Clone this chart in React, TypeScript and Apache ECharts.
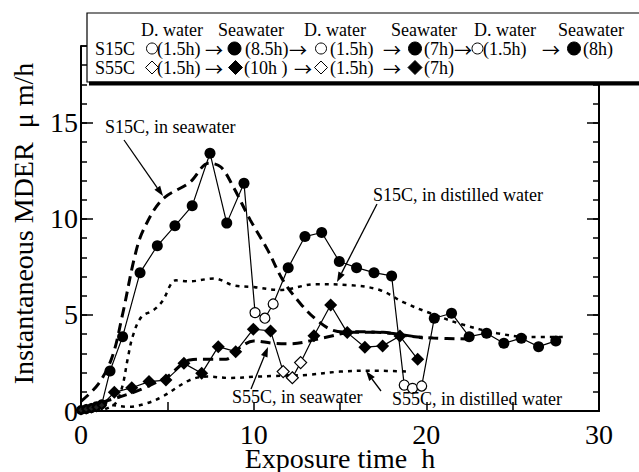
import React, { useEffect, useRef } from 'react';
import * as echarts from 'echarts';

const FONT = 'Liberation Serif';
const ARROW_FONT = 'Noto Sans CJK JP';

// Exposure schedule (from legend)
const s15cPhases: [string, number][] = [['D. water', 1.5], ['Seawater', 8.5], ['D. water', 1.5], ['Seawater', 7], ['D. water', 1.5], ['Seawater', 8]];
const s55cPhases: [string, number][] = [['D. water', 1.5], ['Seawater', 10], ['D. water', 1.5], ['Seawater', 7]];

// Measured points
const s15cTime = [0, 0.3, 0.6, 0.9, 1.2, 1.68, 2.41, 3.42, 4.42, 5.44, 6.44, 7.47, 8.44, 9.44, 10.08, 10.65, 11.13, 12.0, 12.97, 13.94, 14.96, 15.96, 16.97, 17.99, 18.72, 19.2, 19.73, 20.46, 21.46, 22.48, 23.49, 24.49, 25.5, 26.5, 27.5];
const s15cRate = [0.05, 0.1, 0.15, 0.25, 0.35, 2.08, 3.87, 7.2, 8.6, 9.64, 10.68, 13.42, 9.78, 11.86, 5.12, 4.83, 5.57, 7.46, 9.08, 9.29, 7.78, 7.46, 7.2, 7.03, 1.35, 1.18, 1.3, 4.83, 5.09, 3.87, 4.05, 3.53, 3.79, 3.35, 3.65];
const s55cTime = [0, 0.3, 0.6, 0.9, 1.2, 1.93, 2.94, 3.94, 4.92, 5.96, 6.99, 7.95, 8.96, 9.98, 10.98, 11.71, 12.24, 12.72, 13.49, 14.46, 15.42, 16.44, 17.47, 18.47, 19.5];
const s55cRate = [0.05, 0.1, 0.15, 0.2, 0.3, 0.97, 1.21, 1.53, 1.61, 2.48, 1.96, 3.35, 3.09, 4.26, 4.17, 2.05, 1.73, 2.52, 3.92, 5.52, 4.08, 3.32, 3.39, 3.9, 2.69];

// Fitted trend curves
const s15cSeaTime = [0, 1.0, 1.8, 2.4, 3.1, 3.6, 4.7, 6.3, 7.4, 8.1, 8.8, 9.8, 10.8, 11.7, 12.7, 13.7, 14.6, 15.6, 17.5, 18.5, 20.4, 22.4];
const s15cSeaRate = [0.5, 1.4, 2.8, 5.0, 8.0, 9.4, 11.0, 11.9, 12.9, 12.7, 11.7, 9.95, 8.4, 6.8, 5.6, 4.7, 4.2, 4.1, 4.1, 3.95, 3.8, 3.75];
const s15cDistTime = [1.4, 2.0, 2.4, 2.7, 3.0, 3.5, 4.2, 4.7, 5.5, 6.3, 7.7, 8.8, 10.0, 11.5, 13.6, 15.6, 17.3, 18.7, 20.2, 22.1, 24.1, 26.0, 27.9];
const s15cDistRate = [0.1, 0.4, 1.3, 2.7, 3.9, 4.9, 5.25, 5.7, 6.8, 6.75, 6.9, 6.55, 6.45, 6.3, 6.6, 6.55, 6.3, 5.65, 5.1, 4.5, 4.05, 3.85, 3.85];
const s55cSeaTime = [1.2, 2.3, 3.4, 5.0, 6.3, 7.3, 8.4, 9.2, 10.0, 11.1, 12.1, 14.0, 16.0, 17.9, 19.8];
const s55cSeaRate = [0.45, 0.75, 1.1, 1.8, 2.65, 2.7, 2.7, 3.3, 3.65, 3.53, 3.5, 3.8, 4.13, 4.05, 3.8];
const s55cDistTime = [1.3, 1.9, 2.8, 3.8, 4.7, 6.3, 7.3, 8.6, 10.2, 11.1, 13.1, 15.0, 16.9, 19.0];
const s55cDistRate = [0.45, 0.3, 0.22, 0.4, 0.74, 1.61, 1.79, 1.72, 1.79, 1.82, 1.88, 2.05, 2.1, 2.05];

const xTickLabels = [0, 10, 20, 30];
const yTickLabels = [0, 5, 10, 15];
const xTitle = 'Exposure time  h';
const yTitle = 'Instantaneous MDER  μ m/h';

function inSeawater(phases: [string, number][], t: number) {
  let start = 0;
  for (const [medium, h] of phases) {
    const end = start + h;
    if (t >= start && t < end) return medium === 'Seawater';
    start = end;
  }
  return phases[phases.length - 1][0] === 'Seawater';
}

function pts(xs: number[], ys: number[]) {
  return xs.map((x, i) => [x, ys[i]]);
}

function arrow(x1: number, y1: number, x2: number, y2: number) {
  const a = Math.atan2(y2 - y1, x2 - x1);
  const L = 10, W = 3.5;
  const bx = x2 - L * Math.cos(a), by = y2 - L * Math.sin(a);
  const px = -Math.sin(a) * W, py = Math.cos(a) * W;
  return [
    { type: 'line', z: 50, shape: { x1, y1, x2: bx, y2: by }, style: { stroke: '#000', lineWidth: 1.3 } },
    { type: 'polygon', z: 50, shape: { points: [[x2, y2], [bx + px, by + py], [bx - px, by - py]] }, style: { fill: '#000' } },
  ];
}

function txt(x: number, y: number, text: string, size = 18, z = 101, family = FONT, align = 'left') {
  return { type: 'text', x, y, z, style: { text, fontSize: size, lineHeight: size, fontFamily: family, fill: '#000', align, verticalAlign: 'middle' } };
}
function arr(x: number, y: number) {
  return txt(x, y, '→', 18, 101, ARROW_FONT);
}
function circ(cx: number, cy: number, filled: boolean) {
  return { type: 'circle', z: 101, shape: { cx, cy, r: filled ? 6.5 : 5.5 }, style: { fill: filled ? '#000' : '#fff', stroke: '#000', lineWidth: 1 } };
}
function diam(cx: number, cy: number, filled: boolean) {
  const r = filled ? 7 : 6.5;
  return { type: 'polygon', z: 101, shape: { points: [[cx, cy - r], [cx + r, cy], [cx, cy + r], [cx - r, cy]] }, style: { fill: filled ? '#000' : '#fff', stroke: '#000', lineWidth: 1 } };
}

export default function App() {
  const ref = useRef<HTMLDivElement>(null);
  useEffect(() => {
    const chart = echarts.init(ref.current!, null, { renderer: 'svg' });
    const axisLine = { show: true, lineStyle: { color: '#000', width: 2 } };

    const mkPoints = (xs: number[], ys: number[], phases: [string, number][], shape: string, fs: number, os: number) =>
      xs.map((x, i) => {
        const sea = inSeawater(phases, x);
        const early = x < 1.5;
        return {
          value: [x, ys[i]],
          symbol: shape,
          symbolSize: sea ? fs : early ? 8 : os,
          itemStyle: sea
            ? { color: '#000', borderColor: '#000', borderWidth: 0 }
            : { color: early ? '#222' : '#fff', borderColor: '#000', borderWidth: early ? 2 : 1.2 },
        };
      });

    const curve = (name: string, xs: number[], ys: number[], dashed: boolean) => ({
      type: 'line', name, data: pts(xs, ys), smooth: 0.35, symbol: 'none', showSymbol: false, z: 3,
      lineStyle: dashed ? { color: '#000', width: 3, type: [10, 6] } : { color: '#000', width: 2.5, type: [4, 5] },
    });

    const minorY = (position: string) => ({
      type: 'value', min: 0, max: 19, interval: 1, position,
      axisLine, splitLine: { show: false },
      axisTick: { show: true, inside: true, length: 6, lineStyle: { color: '#000', width: 1.5 } },
      axisLabel: { show: false },
    });
    const majorY = (position: string) => ({
      type: 'value', min: 0, max: 19, interval: 5, position,
      axisLine: { show: false }, splitLine: { show: false },
      axisTick: { show: true, inside: true, length: 12, lineStyle: { color: '#000', width: 1.5 } },
      axisLabel: { show: false },
    });

    chart.setOption({
      animation: false,
      backgroundColor: '#fff',
      grid: { left: 81, right: 40, top: 46, bottom: 61, containLabel: false },
      xAxis: [
        {
          type: 'value', min: 0, max: 30, interval: 5, position: 'bottom',
          axisLine, splitLine: { show: false },
          axisTick: { show: true, inside: true, length: 9, lineStyle: { color: '#000', width: 1.5 } },
          axisLabel: { show: false },
        },
        {
          type: 'value', min: 0, max: 30, interval: 5, position: 'top',
          axisLine, splitLine: { show: false }, axisTick: { show: false }, axisLabel: { show: false },
        },
      ],
      yAxis: [minorY('left'), majorY('left'), minorY('right'), majorY('right')],
      series: [
        curve('S15C, in seawater', s15cSeaTime, s15cSeaRate, true),
        curve('S15C, in distilled water', s15cDistTime, s15cDistRate, false),
        curve('S55C, in seawater', s55cSeaTime, s55cSeaRate, true),
        curve('S55C, in distilled water', s55cDistTime, s55cDistRate, false),
        {
          type: 'line', name: 'S15C', z: 5, data: mkPoints(s15cTime, s15cRate, s15cPhases, 'circle', 11, 10),
          lineStyle: { color: '#000', width: 1.2 }, itemStyle: { color: '#000' },
        },
        {
          type: 'line', name: 'S55C', z: 5, data: mkPoints(s55cTime, s55cRate, s55cPhases, 'diamond', 13, 12),
          lineStyle: { color: '#000', width: 1.2 }, itemStyle: { color: '#000' },
        },
      ],
    });

    // Axis tick labels and titles placed through the axes' own scales
    const px = (v: number) => chart.convertToPixel({ xAxisIndex: 0 }, v) as number;
    const py = (v: number) => chart.convertToPixel({ yAxisIndex: 0 }, v) as number;
    const axisY = py(0);
    const axisX = px(0);
    const axisTexts: any[] = [
      ...xTickLabels.map((v) => txt(px(v), axisY + 23, String(v), 28, 40, FONT, 'center')),
      ...yTickLabels.map((v) => txt(axisX - 3, py(v), String(v), 28, 40, FONT, 'right')),
      txt((px(0) + px(30)) / 2, axisY + 47, xTitle, 28, 40, FONT, 'center'),
      {
        type: 'text', x: 23, y: (py(0) + py(19)) / 2 - 5, z: 40, rotation: Math.PI / 2,
        style: { text: yTitle, fontSize: 28, lineHeight: 28, fontFamily: FONT, fill: '#000', align: 'center', verticalAlign: 'middle' },
      },
    ];

    const headerX = [141, 218, 304, 391, 474, 558];
    const r1 = 30, r2 = 48.5, r3 = 67.5;
    const graphic: any[] = [
      ...axisTexts,
      { type: 'rect', z: 100, shape: { x: 87, y: 13, width: 600, height: 69 }, style: { fill: '#fff', stroke: '#000', lineWidth: 1.2 } },
      { type: 'rect', z: 100, shape: { x: 89, y: 81.5, width: 600, height: 4 }, style: { fill: '#000' } },
      ...s15cPhases.map(([m], i) => txt(headerX[i], r1, m)),
      txt(95, r2, 'S15C'), circ(152, r2, false), txt(157, r2, '(1.5h)'), arr(205, r2),
      circ(234.5, r2, true), txt(245, r2, '(8.5h)'), arr(289, r2),
      circ(321, r2, false), txt(330, r2, '(1.5h)'), arr(383, r2),
      circ(415, r2, true), txt(424, r2, '(7h)'), arr(454, r2),
      circ(477.5, r2, false), txt(483, r2, '(1.5h)'), arr(542, r2),
      circ(574, r2, true), txt(583, r2, '(8h)'),
      txt(95, r3, 'S55C'), diam(152, r3, false), txt(157, r3, '(1.5h)'), arr(205, r3),
      diam(235.5, r3, true), txt(244, r3, '(10h )'), arr(294, r3),
      diam(321, r3, false), txt(330, r3, '(1.5h)'), arr(383, r3),
      diam(415, r3, true), txt(424, r3, '(7h)'),
      txt(105, 127, 'S15C, in seawater', 18, 50),
      ...arrow(124, 140, 163, 196),
      txt(373, 195, 'S15C, in distilled water', 18, 50),
      ...arrow(377, 204, 337, 282),
      txt(232, 397, 'S55C, in seawater', 18, 50),
      ...arrow(251, 389, 268, 347),
      txt(392, 399, 'S55C, in distilled water', 18, 50),
      ...arrow(381, 391, 366, 371),
    ];
    chart.setOption({ graphic });
    return () => chart.dispose();
  }, []);
  return <div ref={ref} style={{ position: 'fixed', left: 0, top: 0, width: 639, height: 472, background: '#fff' }} />;
}
